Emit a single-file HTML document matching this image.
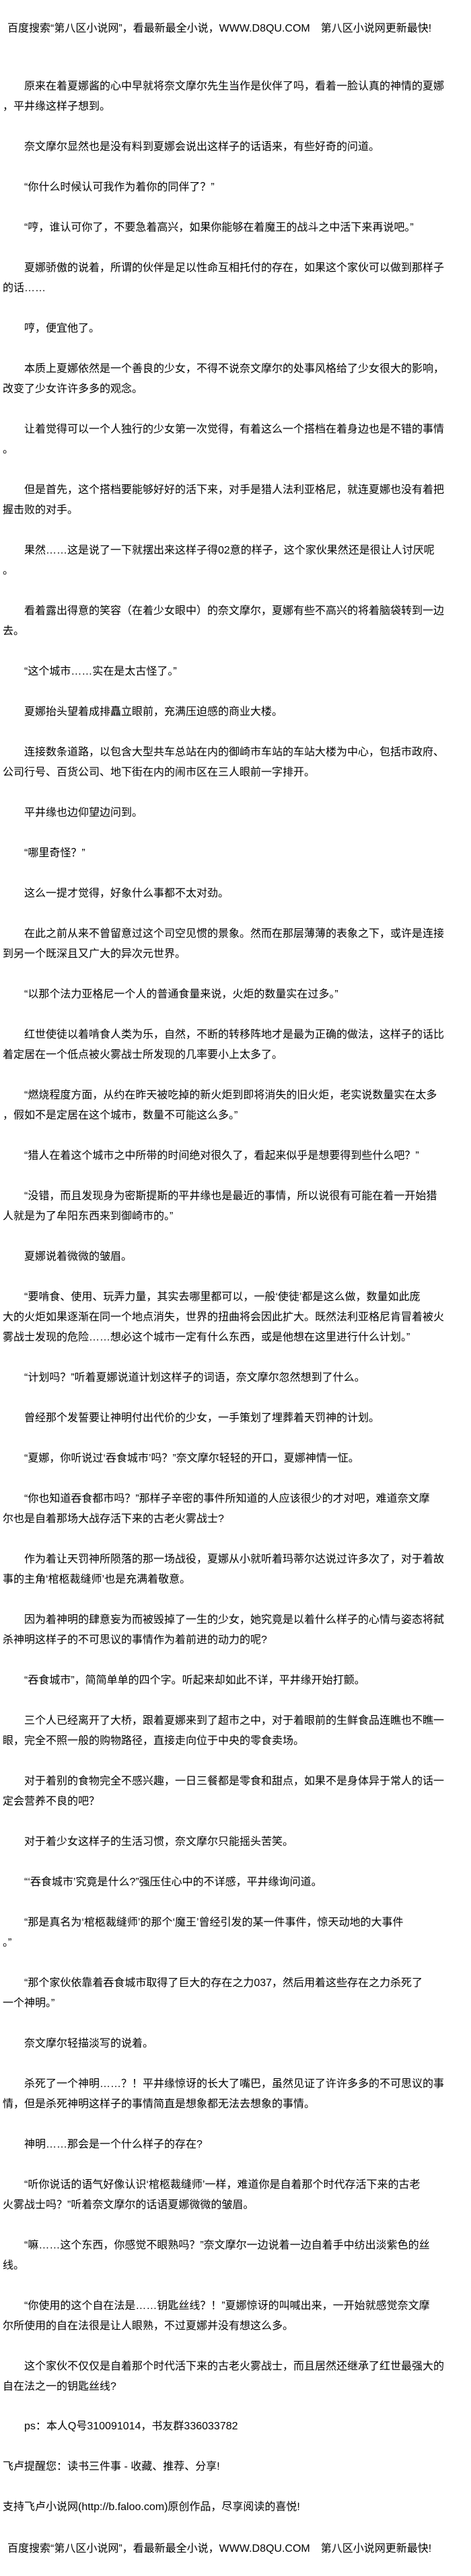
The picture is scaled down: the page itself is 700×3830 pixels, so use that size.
<!DOCTYPE html>
<html><head><meta charset="utf-8">
<style>
html,body{margin:0;padding:0;background:#fff;}
body{width:700px;height:3830px;position:relative;overflow:hidden;color:#000;
font-family:"Liberation Sans","Noto Sans CJK SC",sans-serif;font-size:16px;}
.l{position:absolute;white-space:pre;line-height:30px;height:30px;}
#t{position:absolute;left:4px;top:114px;white-space:pre;line-height:30px;}
</style></head><body>
<div class="l" style="left:11px;top:28px;">百度搜索“第八区小说网”，看最新最全小说，WWW.D8QU.COM　第八区小说网更新最快!</div>
<div id="t">　　原来在着夏娜酱的心中早就将奈文摩尔先生当作是伙伴了吗，看着一脸认真的神情的夏娜
，平井缘这样子想到。

　　奈文摩尔显然也是没有料到夏娜会说出这样子的话语来，有些好奇的问道。

　　“你什么时候认可我作为着你的同伴了？”

　　“哼，谁认可你了，不要急着高兴，如果你能够在着魔王的战斗之中活下来再说吧。”

　　夏娜骄傲的说着，所谓的伙伴是足以性命互相托付的存在，如果这个家伙可以做到那样子
的话……

　　哼，便宜他了。

　　本质上夏娜依然是一个善良的少女，不得不说奈文摩尔的处事风格给了少女很大的影响，
改变了少女许许多多的观念。

　　让着觉得可以一个人独行的少女第一次觉得，有着这么一个搭档在着身边也是不错的事情
。

　　但是首先，这个搭档要能够好好的活下来，对手是猎人法利亚格尼，就连夏娜也没有着把
握击败的对手。

　　果然……这是说了一下就摆出来这样子得02意的样子，这个家伙果然还是很让人讨厌呢
。

　　看着露出得意的笑容（在着少女眼中）的奈文摩尔，夏娜有些不高兴的将着脑袋转到一边
去。

　　“这个城市……实在是太古怪了。”

　　夏娜抬头望着成排矗立眼前，充满压迫感的商业大楼。

　　连接数条道路，以包含大型共车总站在内的御崎市车站的车站大楼为中心，包括市政府、
公司行号、百货公司、地下街在内的闹市区在三人眼前一字排开。

　　平井缘也边仰望边问到。

　　“哪里奇怪？”

　　这么一提才觉得，好象什么事都不太对劲。

　　在此之前从来不曾留意过这个司空见惯的景象。然而在那层薄薄的表象之下，或许是连接
到另一个既深且又广大的异次元世界。

　　“以那个法力亚格尼一个人的普通食量来说，火炬的数量实在过多。”

　　红世使徒以着啃食人类为乐，自然，不断的转移阵地才是最为正确的做法，这样子的话比
着定居在一个低点被火雾战士所发现的几率要小上太多了。

　　“燃烧程度方面，从约在昨天被吃掉的新火炬到即将消失的旧火炬，老实说数量实在太多
，假如不是定居在这个城市，数量不可能这么多。”

　　“猎人在着这个城市之中所带的时间绝对很久了，看起来似乎是想要得到些什么吧？”

　　“没错，而且发现身为密斯提斯的平井缘也是最近的事情，所以说很有可能在着一开始猎
人就是为了牟阳东西来到御崎市的。”

　　夏娜说着微微的皱眉。

　　“要啃食、使用、玩弄力量，其实去哪里都可以，一般‘使徒’都是这么做，数量如此庞
大的火炬如果逐渐在同一个地点消失，世界的扭曲将会因此扩大。既然法利亚格尼肯冒着被火
雾战士发现的危险……想必这个城市一定有什么东西，或是他想在这里进行什么计划。”

　　“计划吗？”听着夏娜说道计划这样子的词语，奈文摩尔忽然想到了什么。

　　曾经那个发誓要让神明付出代价的少女，一手策划了埋葬着天罚神的计划。

　　“夏娜，你听说过‘吞食城市’吗？”奈文摩尔轻轻的开口，夏娜神情一怔。

　　“你也知道吞食都市吗？”那样子辛密的事件所知道的人应该很少的才对吧，难道奈文摩
尔也是自着那场大战存活下来的古老火雾战士?

　　作为着让天罚神所陨落的那一场战役，夏娜从小就听着玛蒂尔达说过许多次了，对于着故
事的主角‘棺柩裁缝师’也是充满着敬意。

　　因为着神明的肆意妄为而被毁掉了一生的少女，她究竟是以着什么样子的心情与姿态将弑
杀神明这样子的不可思议的事情作为着前进的动力的呢?

　　“吞食城市”，简简单单的四个字。听起来却如此不详，平井缘开始打颤。

　　三个人已经离开了大桥，跟着夏娜来到了超市之中，对于着眼前的生鲜食品连瞧也不瞧一
眼，完全不照一般的购物路径，直接走向位于中央的零食卖场。

　　对于着别的食物完全不感兴趣，一日三餐都是零食和甜点，如果不是身体异于常人的话一
定会营养不良的吧？

　　对于着少女这样子的生活习惯，奈文摩尔只能摇头苦笑。

　　“‘吞食城市’究竟是什么?”强压住心中的不详感，平井缘询问道。

　　“那是真名为‘棺柩裁缝师’的那个‘魔王’曾经引发的某一件事件，惊天动地的大事件
。”

　　“那个家伙依靠着吞食城市取得了巨大的存在之力037，然后用着这些存在之力杀死了
一个神明。”

　　奈文摩尔轻描淡写的说着。

　　杀死了一个神明……？！平井缘惊讶的长大了嘴巴，虽然见证了许许多多的不可思议的事
情，但是杀死神明这样子的事情简直是想象都无法去想象的事情。

　　神明……那会是一个什么样子的存在?

　　“听你说话的语气好像认识‘棺柩裁缝师’一样，难道你是自着那个时代存活下来的古老
火雾战士吗？”听着奈文摩尔的话语夏娜微微的皱眉。

　　“嘛……这个东西，你感觉不眼熟吗？”奈文摩尔一边说着一边自着手中纺出淡紫色的丝
线。

　　“你使用的这个自在法是……钥匙丝线？！”夏娜惊讶的叫喊出来，一开始就感觉奈文摩
尔所使用的自在法很是让人眼熟，不过夏娜并没有想这么多。

　　这个家伙不仅仅是自着那个时代活下来的古老火雾战士，而且居然还继承了红世最强大的
自在法之一的钥匙丝线?</div>
<div class="l" style="left:36px;top:3593px;">ps：本人Q号310091014，书友群336033782</div>
<div class="l" style="left:4px;top:3653px;">飞卢提醒您：读书三件事 - 收藏、推荐、分享!</div>
<div class="l" style="left:4px;top:3713px;">支持飞卢小说网(http://b.faloo.com)原创作品，尽享阅读的喜悦!</div>
<div class="l" style="left:11px;top:3775px;">百度搜索“第八区小说网”，看最新最全小说，WWW.D8QU.COM　第八区小说网更新最快!</div>
</body></html>
